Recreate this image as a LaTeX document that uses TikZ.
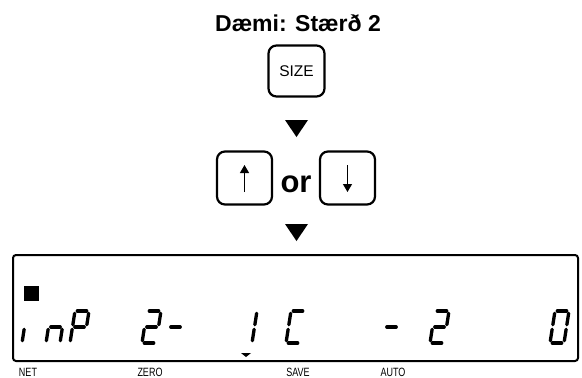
\documentclass[tikz,border=0pt]{standalone}
\usepackage{fontspec}
\setmainfont{Liberation Sans}
\usetikzlibrary{positioning,arrows.meta}
\newcommand{\keyr}{8pt}
\newcommand{\segw}{3.3pt}
\newcommand{\cellx}{24}
\newcommand{\narrow}[1]{\scalebox{0.75}[1]{#1}}

\begin{document}
\begin{tikzpicture}[x=1pt,y=-1pt]
            %\draw[help lines] (0,0) grid (582,378);
            \tikzset{keybox/.style = {draw, line width=2.2pt, rounded corners=\keyr, minimum width=55pt, minimum height=53pt, inner sep=0pt}}
            \tikzset{lcdseg/.style = {line width=\segw, line cap=round, shorten <=2.3pt, shorten >=2.3pt}}
            \tikzset{tag/.style = {font=\fontsize{12}{12}\selectfont, inner sep=0pt}}
            \useasboundingbox (0,0) rectangle (582,378);
            \node[font=\fontsize{23}{26}\selectfont\bfseries, anchor=base] (title) at (298,31) {Dæmi: Stærð 2};
            \node[keybox, minimum width=56pt, minimum height=51pt, font=\fontsize{15.5}{16}\selectfont] (sizekey) at (296.5,71) {SIZE};
            \coordinate (tri1) at (296.5,128.5);
            \fill (tri1) ++(-11.5,-8.5) -- ++(23,0) -- ++(-11.5,17) -- cycle;
            \node[keybox] (upkey) at (244.5,178) {};
            \node[keybox] (downkey) at (347.5,178) {};
            \node[font=\fontsize{31}{32}\selectfont\bfseries, anchor=base] (orword) at (296,192) {or};
            \draw[line width=1.3pt, -{Triangle[width=9pt,length=8pt]}] ([yshift=-14pt]upkey.center) -- ([yshift=13pt]upkey.center);
            \draw[line width=1.3pt, -{Triangle[width=9pt,length=8pt]}] ([yshift=13pt]downkey.center) -- ([yshift=-14pt]downkey.center);
            \coordinate (tri2) at (296.5,232.5);
            \fill (tri2) ++(-11.5,-8.5) -- ++(23,0) -- ++(-11.5,17) -- cycle;
            % display
            \node[draw, line width=2pt, rounded corners=3pt, minimum width=565pt, minimum height=106pt, inner sep=0pt] (lcd) at (295.5,308) {};
            \fill (24,286) rectangle (39,301);
            \foreach \c/\segs in {0/{ml/bl}, 1/{ml/mr,mr/br,ml/bl}, 2/{tl/tr,tr/mr,ml/mr,tl/ml,ml/bl},
                                  5/{tl/tr,tr/mr,ml/mr,ml/bl,bl/br}, 6/{ml/mr}, 9/{tr/mr,mr/br},
                                  11/{tl/tr,tl/ml,ml/bl,bl/br}, 15/{ml/mr}, 17/{tl/tr,tr/mr,ml/mr,ml/bl,bl/br},
                                  22/{tl/tr,tr/mr,mr/br,bl/br,ml/bl,tl/ml}}{
                \begin{scope}[shift={(22+\cellx*\c,343)}]
                    \coordinate (bl) at (0,0);
                    \coordinate (br) at (14,0);
                    \coordinate (ml) at (2.5,-16);
                    \coordinate (mr) at (16.5,-16);
                    \coordinate (tl) at (5,-32);
                    \coordinate (tr) at (19,-32);
                    \foreach \p/\q in \segs {\draw[lcdseg] (\p) -- (\q);}
                \end{scope}
            }
            \fill (241,353) -- (251,353) -- (246,357) -- cycle;
            \node[tag] (net) at (28,372) {\narrow{NET}};
            \node[tag] (zero) at (150,372) {\narrow{ZERO}};
            \node[tag] (save) at (298,372) {\narrow{SAVE}};
            \node[tag] (auto) at (393,372) {\narrow{AUTO}};
        \end{tikzpicture}
\end{document}
